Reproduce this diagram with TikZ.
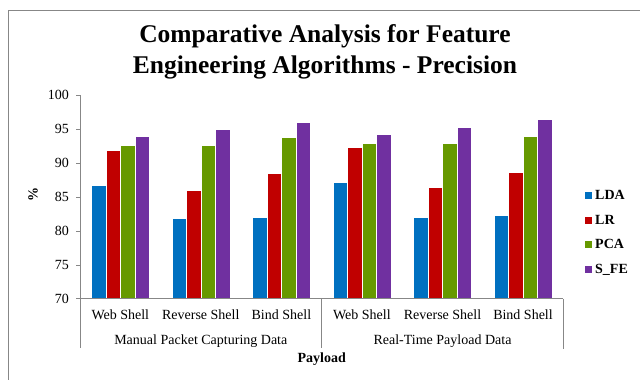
\documentclass[tikz,border=0pt]{standalone}
\usepackage{fontspec}
\setmainfont{Liberation Serif}
\definecolor{ldacol}{HTML}{0070C0}
\definecolor{lrcol}{HTML}{C00000}
\definecolor{pcacol}{HTML}{669900}
\definecolor{sfecol}{HTML}{7030A0}
\definecolor{axisgray}{HTML}{878787}

\begin{document}
\begin{tikzpicture}[x=1pt,y=1pt,
		ldabar/.style={fill=ldacol,draw=white,line width=0.3pt},
		lrbar/.style={fill=lrcol,draw=white,line width=0.3pt},
		pcabar/.style={fill=pcacol,draw=white,line width=0.3pt},
		sfebar/.style={fill=sfecol,draw=white,line width=0.3pt},
		axisline/.style={draw=axisgray,line width=1pt},
		ticklabel/.style={font=\fontsize{14}{16}\selectfont,anchor=east,inner sep=0pt},
		catlabel/.style={font=\fontsize{14}{16}\selectfont,anchor=base,inner sep=0pt},
		legtext/.style={font=\bfseries\fontsize{14}{16}\selectfont,anchor=base west,inner sep=0pt}]
		\useasboundingbox (0,0) rectangle (640,380);
		\draw[axisline] (8,0) -- (8,369.7) -- (640,369.7);
		% title
		\node[font=\bfseries\fontsize{25.5}{30}\selectfont,anchor=base] (title1) at (325,337.3) {Comparative Analysis for Feature};
		\node[font=\bfseries\fontsize{25.5}{30}\selectfont,anchor=base] (title2) at (325,306.7) {Engineering Algorithms - Precision};
		% bars
		\begin{scope}[yshift=-394.3pt,y=6.79pt]
		\fill[ldabar] (91.3,70) rectangle (105.8,86.8);
		\fill[lrbar] (105.8,70) rectangle (120.3,91.9);
		\fill[pcabar] (120.3,70) rectangle (134.8,92.7);
		\fill[sfebar] (134.8,70) rectangle (149.3,94.0);
		\fill[ldabar] (171.8,70) rectangle (186.3,81.9);
		\fill[lrbar] (186.3,70) rectangle (200.8,86.0);
		\fill[pcabar] (200.8,70) rectangle (215.3,92.7);
		\fill[sfebar] (215.3,70) rectangle (229.8,95.0);
		\fill[ldabar] (252.4,70) rectangle (266.9,82.1);
		\fill[lrbar] (266.9,70) rectangle (281.4,88.5);
		\fill[pcabar] (281.4,70) rectangle (295.9,93.8);
		\fill[sfebar] (295.9,70) rectangle (310.4,96.1);
		\fill[ldabar] (332.9,70) rectangle (347.4,87.2);
		\fill[lrbar] (347.4,70) rectangle (361.9,92.3);
		\fill[pcabar] (361.9,70) rectangle (376.4,93.0);
		\fill[sfebar] (376.4,70) rectangle (390.9,94.3);
		\fill[ldabar] (413.5,70) rectangle (428.0,82.1);
		\fill[lrbar] (428.0,70) rectangle (442.5,86.4);
		\fill[pcabar] (442.5,70) rectangle (457.0,93.0);
		\fill[sfebar] (457.0,70) rectangle (471.5,95.3);
		\fill[ldabar] (494.0,70) rectangle (508.5,82.3);
		\fill[lrbar] (508.5,70) rectangle (523.0,88.7);
		\fill[pcabar] (523.0,70) rectangle (537.5,94.0);
		\fill[sfebar] (537.5,70) rectangle (552.0,96.5);
		% y axis ticks and labels
		\draw[axisline] (80,100) -- (80,70) -- (563.3,70);
		\draw[axisline] (76,70) -- (80,70) (76,75) -- (80,75) (76,80) -- (80,80) (76,85) -- (80,85) (76,90) -- (80,90) (76,95) -- (80,95) (76,100) -- (80,100);
		\node[ticklabel] (t70) at (69,70) {70};
		\node[ticklabel] (t75) at (69,75) {75};
		\node[ticklabel] (t80) at (69,80) {80};
		\node[ticklabel] (t85) at (69,85) {85};
		\node[ticklabel] (t90) at (69,90) {90};
		\node[ticklabel] (t95) at (69,95) {95};
		\node[ticklabel] (t100) at (69,100) {100};
		\end{scope}
		% category axis
		\draw[axisline] (80,81) -- (80,32);
		\draw[axisline] (321.7,81) -- (321.7,32);
		\draw[axisline] (563.3,81) -- (563.3,31);
		\node[catlabel] (c1) at (120.3,60) {Web Shell};
		\node[catlabel] (c2) at (200.8,60) {Reverse Shell};
		\node[catlabel] (c3) at (281.4,60) {Bind Shell};
		\node[catlabel] (c4) at (361.9,60) {Web Shell};
		\node[catlabel] (c5) at (442.5,60) {Reverse Shell};
		\node[catlabel] (c6) at (523.0,60) {Bind Shell};
		\node[catlabel] (manual) at (200.8,35) {Manual Packet Capturing Data};
		\node[catlabel] (realtime) at (442.5,35) {Real-Time Payload Data};
		\node[catlabel,font=\bfseries\fontsize{14}{16}\selectfont] (payload) at (321.7,17.3) {Payload};
		\node[font=\bfseries\fontsize{14}{16}\selectfont,rotate=90] (pct) at (33,185) {\%};
		% legend
		\fill[ldacol] (585.3,180.7) rectangle (592.3,187.7);
		\node[legtext] (lda) at (595,180) {LDA};
		\fill[lrcol] (585.3,156.2) rectangle (592.3,163.2);
		\node[legtext] (lr) at (595,155.5) {LR};
		\fill[pcacol] (585.3,131.7) rectangle (592.3,138.7);
		\node[legtext] (pca) at (595,131) {PCA};
		\fill[sfecol] (585.3,107.2) rectangle (592.3,114.2);
		\node[legtext] (sfe) at (595,106.5) {S\_FE};
	\end{tikzpicture}
\end{document}
